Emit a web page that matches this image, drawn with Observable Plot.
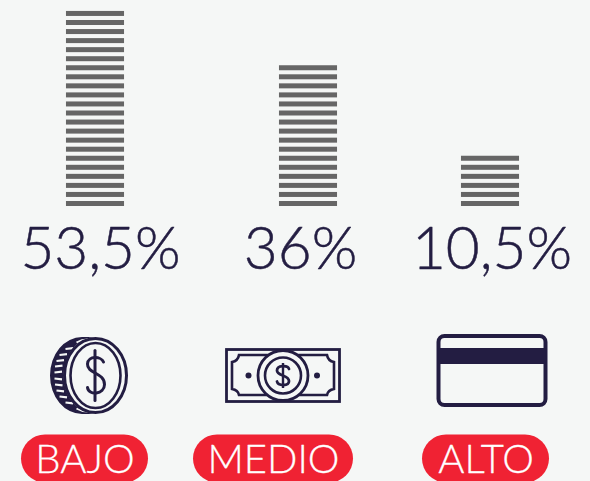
<!DOCTYPE html>
<html lang="es">
<head>
<meta charset="utf-8">
<script src="https://cdn.jsdelivr.net/npm/d3@7"></script>
<script src="https://cdn.jsdelivr.net/npm/@observablehq/plot@0.6"></script>
<style>
html,body{margin:0;padding:0;background:#f5f7f6;overflow:hidden}
svg{display:block}
</style>
</head>
<body>
<div id="chart"></div>
<script>
// Data
const categories = ["BAJO", "MEDIO", "ALTO"];
const percentLabels = ["53,5%", "36%", "10,5%"];
const stripeCounts = [22, 16, 6];

// Layout tuning (pixel offsets from each column's scale position)
const barShift = [0, 15.5, 0];
const pctShift = [5, 7.5, 1.5];
const iconShift = [-6.5, -9.5, 2];
const pillShift = [-10.5, -19.5, -4.5];
const pillWidth = [127, 160, 127];

const ink = "#231d42", red = "#f02233", grey = "#666666", bg = "#f5f7f6";
const pitch = 9.05, baseline = 206;

const stripes = categories.flatMap((c, k) =>
  d3.range(stripeCounts[k]).map(i => ({category: c, i})));

function el(parent, tag, attrs) {
  const e = parent.append(tag);
  for (const k in attrs) e.attr(k, attrs[k]);
  return e;
}

function coin(g) {
  el(g, "path", {d: "M7,-38.5H-6.5A32,38.5 0 0 0 -6.5,38.5H7A32,38.5 0 0 1 7,-38.5Z", fill: ink});
  const ribs = [[-26.5,-23],[-20.5,-29],[-14.5,-32],[-9,-33.5],[-3,-34],[3,-34],[9,-33.5],[15,-32],[21,-29],[27,-23]];
  for (const [y, x] of ribs)
    el(g, "line", {x1: x, x2: x + 7.5, y1: y, y2: y + (y < 0 ? -0.8 : 0.8), stroke: bg, "stroke-width": 2.2});
  el(g, "path", {d: "M-12,-33Q-6,-36.5 1,-36", fill: "none", stroke: bg, "stroke-width": 2});
  el(g, "path", {d: "M-12,33Q-6,36.5 1,36", fill: "none", stroke: bg, "stroke-width": 2});
  el(g, "ellipse", {cx: 7, cy: 0, rx: 31, ry: 37, fill: bg, stroke: ink, "stroke-width": 3});
  el(g, "ellipse", {cx: 7, cy: 0, rx: 25, ry: 32.5, fill: "none", stroke: ink, "stroke-width": 2.6});
  el(g, "path", {d: "M15,-13.5C13,-19 -0.5,-20.5 -1,-11.5C-1.5,-2 16,-3 16,9C16,19 0,20.5 -1,12", fill: "none", stroke: ink, "stroke-width": 3, "stroke-linecap": "round"});
  el(g, "line", {x1: 6.5, x2: 6.5, y1: -25, y2: 25, stroke: ink, "stroke-width": 3, "stroke-linecap": "round"});
}

function bill(g) {
  el(g, "rect", {x: -56.5, y: -25.5, width: 113, height: 52, fill: "none", stroke: ink, "stroke-width": 2.8});
  el(g, "path", {
    d: "M-44,-20H44Q45,-14 51,-13V14Q45,15 44,20H-44Q-45,15 -51,14V-13Q-45,-14 -44,-20Z",
    fill: "none", stroke: ink, "stroke-width": 2.6});
  el(g, "circle", {cx: 0, cy: 0.5, r: 25, fill: bg, stroke: ink, "stroke-width": 2.8});
  el(g, "circle", {cx: 0, cy: 0.5, r: 18, fill: "none", stroke: ink, "stroke-width": 2.6});
  el(g, "path", {d: "M6,-6C5,-10 -6,-10 -6,-4.5C-6,1 6,0 6,6C6,11.5 -5,11 -6,6.5", fill: "none", stroke: ink, "stroke-width": 2.8, "stroke-linecap": "round"});
  el(g, "line", {x1: 0, x2: 0, y1: -12, y2: 13, stroke: ink, "stroke-width": 2.4});
  el(g, "circle", {cx: -34.5, cy: 0.5, r: 3, fill: ink});
  el(g, "circle", {cx: 34, cy: 0.5, r: 3, fill: ink});
}

function card(g) {
  el(g, "rect", {x: -53.5, y: -39.5, width: 107, height: 69, rx: 6, fill: "none", stroke: ink, "stroke-width": 4});
  el(g, "rect", {x: -53.5, y: -27.5, width: 107, height: 16, fill: ink});
}

const iconDraw = [coin, bill, card];
const iconCenterY = [375.5, 375, 375.5];

function iconsAndPills(index, scales) {
  const root = d3.create("svg:g");
  const b = scales.x.bandwidth;
  const bw = typeof b === "function" ? b() : b;
  categories.forEach((c, k) => {
    const cx = scales.x(c) + bw / 2;
    const g = root.append("g").attr("transform", `translate(${cx + iconShift[k]},${iconCenterY[k]})`);
    iconDraw[k](g);
    el(root, "rect", {
      x: cx + pillShift[k] - pillWidth[k] / 2, y: 434.5,
      width: pillWidth[k], height: 48, rx: 24, fill: red
    });
  });
  return root.node();
}

const chart = Plot.plot({
  width: 590,
  height: 481,
  margin: 0,
  style: {background: bg, overflow: "hidden"},
  x: {type: "band", domain: categories, range: [-3.75, 588.75], paddingInner: 0.706, paddingOuter: 0.353, round: false, axis: null},
  y: {domain: [0, baseline / pitch], range: [baseline, 0], axis: null},
  marks: [
    ...categories.map((c, k) => Plot.barY(stripes.filter(d => d.category === c), {
      x: "category",
      y1: "i",
      y2: d => d.i + 5 / pitch,
      fill: grey,
      dx: barShift[k]
    })),
    iconsAndPills,
    ...categories.map((c, k) => Plot.text([c], {
      x: d => d,
      y: () => 0,
      text: () => percentLabels[k],
      dx: pctShift[k],
      dy: 62.5,
      lineAnchor: "bottom",
      fontFamily: "Lato",
      fontWeight: 300,
      fontSize: 58.5,
      fill: ink,
      stroke: ink,
      strokeWidth: 0.5
    })),
    ...categories.map((c, k) => Plot.text([c], {
      x: d => d,
      y: () => 0,
      dx: pillShift[k],
      dy: 266,
      lineAnchor: "bottom",
      fontFamily: "Lato",
      fontWeight: 300,
      fontSize: 40,
      fill: "#ffffff",
      stroke: "#ffffff",
      strokeWidth: 0.3
    }))
  ]
});
document.getElementById("chart").append(chart);
</script>
</body>
</html>
